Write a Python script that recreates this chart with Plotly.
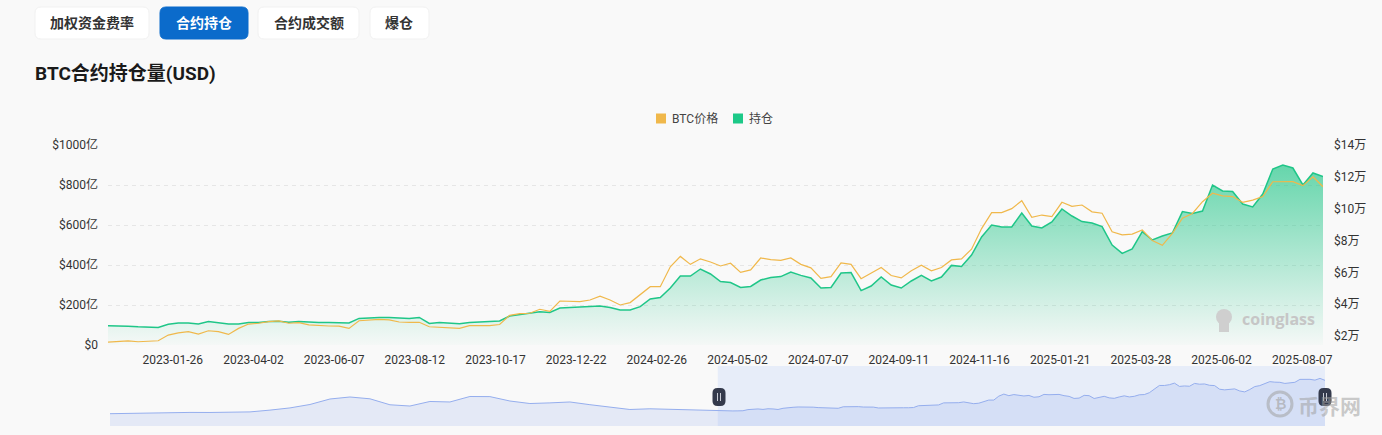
import numpy as np
import pandas as pd
import plotly.graph_objects as go

W, H = 1382, 435

# ---------------- data ----------------
window_start = "2022-12-04"
window_end = "2025-08-24"
history_start = "2020-03-14"
history_end = "2022-11-21"

# open interest (亿 USD), evenly spaced from window_start to window_end
oi_yi = [96, 96, 94, 91, 90, 88, 104, 110, 110, 105,
         117, 110, 105, 105, 113, 112, 118, 119, 114, 117,
         114, 112, 113, 112, 110, 133, 136, 138, 137, 134,
         133, 138, 108, 112, 108, 106, 113, 116, 118, 120,
         145, 152, 158, 166, 163, 185, 188, 190, 190, 195,
         187, 175, 175, 192, 230, 237, 285, 345, 345, 380,
         355, 317, 312, 288, 293, 325, 338, 342, 365, 348,
         335, 285, 288, 360, 362, 272, 295, 340, 300, 285,
         320, 348, 320, 340, 398, 393, 450, 540, 600, 590,
         590, 660, 595, 585, 615, 680, 645, 617, 610, 592,
         500, 458, 480, 567, 525, 545, 560, 667, 658, 670,
         800, 770, 767, 705, 690, 755, 880, 900, 885, 800,
         860, 842]

# BTC price (USD), same dates
price_usd = [16200, 16800, 17000, 16400, 16600, 17000, 20600, 22000, 22700, 21200,
             23300, 22700, 21000, 24800, 27500, 28000, 29000, 29500, 28000, 28400,
             27000, 26500, 26300, 26200, 24800, 29600, 30200, 30500, 30100, 28800,
             28600, 28600, 25800, 25500, 25000, 24800, 26500, 26500, 26500, 27200,
             33000, 34000, 34300, 36800, 35500, 42000, 42000, 41600, 42600, 45000,
             42600, 39500, 41000, 45800, 51000, 51000, 63500, 70000, 65000, 68500,
             66500, 64000, 65700, 60000, 61500, 69000, 68000, 67500, 69000, 65000,
             62800, 56200, 57300, 66000, 65000, 56000, 59400, 63000, 58000, 56500,
             61000, 64500, 61000, 63000, 67800, 68500, 74500, 87500, 97500, 97500,
             100000, 105000, 94500, 96000, 95000, 104000, 101500, 102300, 98000, 97100,
             85500, 83500, 84000, 86600, 80000, 77000, 84500, 94000, 97000, 104400,
             109700, 108000, 107600, 104000, 105400, 107600, 116900, 117000, 117000, 114500,
             120000, 113800]

# earlier BTC price history shown only in the overview slider
history_price_usd = [7600, 9200, 9800, 10800, 11700, 11500, 11500, 13300, 19000, 26000,
                     36900, 54400, 60800, 55000, 36000, 32000, 46500, 44900, 62400, 62000,
                     48000, 40000, 42000, 44900, 36300, 29000, 21000, 23200, 21300, 20000,
                     16800]

tick_dates = ["2023-01-26", "2023-04-02", "2023-06-07", "2023-08-12", "2023-10-17",
              "2023-12-22", "2024-02-26", "2024-05-02", "2024-07-07", "2024-09-11",
              "2024-11-16", "2025-01-21", "2025-03-28", "2025-06-02", "2025-08-07"]
left_ticks = [0, 200, 400, 600, 800, 1000]
left_labels = ["$0", "$200亿", "$400亿", "$600亿", "$800亿", "$1000亿"]
right_ticks = [20000, 40000, 60000, 80000, 100000, 120000, 140000]
right_labels = ["$2万", "$4万", "$6万", "$8万", "$10万", "$12万", "$14万"]
tabs = ["加权资金费率", "合约持仓", "合约成交额", "爆仓"]
title = "BTC合约持仓量(USD)"
series_names = ["BTC价格", "持仓"]


def lin_dates(a, b, n):
    t0, t1 = pd.Timestamp(a).value, pd.Timestamp(b).value
    return pd.to_datetime(np.linspace(t0, t1, n).astype("int64"))


dates = lin_dates(window_start, window_end, len(oi_yi))
hist_dates = lin_dates(history_start, history_end, len(history_price_usd))
full_dates = list(hist_dates) + list(dates)
full_price = history_price_usd + price_usd

GREEN = "#1fc688"
ORANGE = "#f0b84b"
BG = "#f9f9f9"
FONT = "Roboto, 'Noto Sans CJK SC', sans-serif"
slider_range = [-31600, 159500]


def px(x):
    return x / W


def py(y):
    return 1 - y / H


def rrect(x0, y0, x1, y1, r):
    pts = [
        f"M{px(x0 + r)},{py(y0)}",
        f"L{px(x1 - r)},{py(y0)}",
        f"Q{px(x1)},{py(y0)} {px(x1)},{py(y0 + r)}",
        f"L{px(x1)},{py(y1 - r)}",
        f"Q{px(x1)},{py(y1)} {px(x1 - r)},{py(y1)}",
        f"L{px(x0 + r)},{py(y1)}",
        f"Q{px(x0)},{py(y1)} {px(x0)},{py(y1 - r)}",
        f"L{px(x0)},{py(y0 + r)}",
        f"Q{px(x0)},{py(y0)} {px(x0 + r)},{py(y0)}",
        "Z",
    ]
    return " ".join(pts)


fig = go.Figure()

# open interest area
fig.add_trace(go.Scatter(
    x=dates, y=oi_yi, mode="lines", name=series_names[1],
    line=dict(color=GREEN, width=1.5),
    fill="tozeroy",
    fillgradient=dict(type="vertical",
                      colorscale=[[0, "rgba(32,197,135,0.02)"],
                                  [1, "rgba(32,197,135,0.68)"]]),
    xaxis="x", yaxis="y", showlegend=False, hoverinfo="skip"))

# BTC price line
fig.add_trace(go.Scatter(
    x=dates, y=price_usd, mode="lines", name=series_names[0],
    line=dict(color=ORANGE, width=1.2),
    xaxis="x", yaxis="y2", showlegend=False, hoverinfo="skip"))

# overview slider: baseline + price shadow
fig.add_trace(go.Scatter(
    x=full_dates, y=[slider_range[0]] * len(full_dates), mode="lines",
    line=dict(width=0, color="rgba(0,0,0,0)"),
    xaxis="x2", yaxis="y3", showlegend=False, hoverinfo="skip"))
fig.add_trace(go.Scatter(
    x=full_dates, y=full_price, mode="lines",
    line=dict(color="#95aeee", width=1),
    fill="tonexty", fillcolor="rgba(143,170,235,0.20)",
    xaxis="x2", yaxis="y3", showlegend=False, hoverinfo="skip"))

shapes = []
annotations = []

# tabs
tab_boxes = [(35, 149), (160, 248), (258, 359), (370, 429)]
for i, (name, (x0, x1)) in enumerate(zip(tabs, tab_boxes)):
    active = i == 1
    shapes.append(dict(type="path", xref="paper", yref="paper",
                       path=rrect(x0, 7, x1, 39, 6),
                       fillcolor="#0b6bcb" if active else "#ffffff",
                       line=dict(color="#0b6bcb" if active else "#f1f1f1", width=1),
                       layer="above"))
    annotations.append(dict(xref="paper", yref="paper", x=px((x0 + x1) / 2), y=py(23),
                            text=f"<b>{name}</b>", showarrow=False,
                            xanchor="center", yanchor="middle",
                            font=dict(size=14, color="#ffffff" if active else "#333333",
                                      family=FONT)))

# title
annotations.append(dict(xref="paper", yref="paper", x=px(33), y=py(73),
                        text=f"<b>{title}</b>", showarrow=False,
                        xanchor="left", yanchor="middle",
                        font=dict(size=19, color="#1a1a1a", family=FONT)))

# legend
legend_items = [(series_names[0], ORANGE, 656), (series_names[1], "#1dc988", 733)]
for name, col, x0 in legend_items:
    shapes.append(dict(type="rect", xref="paper", yref="paper",
                       x0=px(x0), x1=px(x0 + 10), y0=py(113.5), y1=py(123.5),
                       fillcolor=col, line=dict(width=0)))
    annotations.append(dict(xref="paper", yref="paper", x=px(x0 + 14), y=py(118.5),
                            text=name, showarrow=False, xanchor="left", yanchor="middle",
                            font=dict(size=12, color="#444444", family=FONT)))

# slider selected window
shapes.append(dict(type="rect", xref="x2", yref="paper",
                   x0=window_start, x1=window_end, y0=py(426), y1=py(366),
                   fillcolor="rgba(143,176,247,0.17)", line=dict(width=0), layer="below"))
# slider handles
for cx in (719, 1325):
    shapes.append(dict(type="path", xref="paper", yref="paper",
                       path=rrect(cx - 6.5, 388, cx + 6.5, 406, 5),
                       fillcolor="#343a4c", line=dict(width=0), layer="above"))
    for dx in (-1.5, 1.5):
        shapes.append(dict(type="line", xref="paper", yref="paper",
                           x0=px(cx + dx), x1=px(cx + dx), y0=py(393), y1=py(401),
                           line=dict(color="#c9ccd6", width=1), layer="above"))

# coinglass watermark
shapes.append(dict(type="circle", xref="paper", yref="paper",
                   x0=px(1216), x1=px(1232), y0=py(325), y1=py(309),
                   fillcolor="#cfcfcf", line=dict(width=0)))
shapes.append(dict(type="rect", xref="paper", yref="paper",
                   x0=px(1219), x1=px(1229), y0=py(332), y1=py(322),
                   fillcolor="#cfcfcf", line=dict(width=0)))
annotations.append(dict(xref="paper", yref="paper", x=px(1240), y=py(319),
                        text="<b>coinglass</b>", showarrow=False,
                        xanchor="left", yanchor="middle",
                        font=dict(size=16, color="#c6c6c6", family="'Open Sans', sans-serif")))

# site watermark (bottom right)
shapes.append(dict(type="circle", xref="paper", yref="paper",
                   x0=px(1268), x1=px(1292), y0=py(416), y1=py(392),
                   fillcolor="rgba(0,0,0,0)", line=dict(color="rgba(160,160,160,0.55)", width=3)))
annotations.append(dict(xref="paper", yref="paper", x=px(1280), y=py(404),
                        text="<b>₿</b>", showarrow=False, xanchor="center", yanchor="middle",
                        font=dict(size=14, color="rgba(160,160,160,0.6)", family=FONT)))
annotations.append(dict(xref="paper", yref="paper", x=px(1296), y=py(405),
                        text="<b>币界网</b>", showarrow=False, xanchor="left", yanchor="middle",
                        font=dict(size=21, color="rgba(160,160,160,0.55)",
                                  family="'Noto Sans CJK SC', sans-serif")))

fig.update_layout(
    template="none",
    width=W, height=H, autosize=False,
    margin=dict(l=0, r=0, t=0, b=0, pad=0, autoexpand=False),
    paper_bgcolor=BG, plot_bgcolor=BG,
    font=dict(family=FONT, size=12, color="#333333"),
    showlegend=False,
    xaxis=dict(domain=[px(108), px(1323)], type="date", automargin=False,
               range=[window_start, window_end],
               tickvals=tick_dates, ticktext=tick_dates,
               showgrid=False, zeroline=False, showline=False, ticks="",
               ticklabelstandoff=6, tickangle=0,
               tickfont=dict(size=12, color="#333333", family=FONT), anchor="y"),
    yaxis=dict(domain=[1 - 345 / H, 1 - 145 / H], range=[0, 1000], automargin=False,
               tickvals=left_ticks, ticktext=left_labels,
               showgrid=True, gridcolor="#e6e6e6", griddash="4px,4px", gridwidth=1,
               zeroline=False, showline=False, ticks="", ticklabelstandoff=9,
               tickfont=dict(size=12, color="#333333", family=FONT), anchor="x"),
    yaxis2=dict(overlaying="y", side="right", range=[14350, 140000], automargin=False,
                tickvals=right_ticks, ticktext=right_labels,
                showgrid=False, zeroline=False, showline=False, ticks="",
                ticklabelstandoff=10,
                tickfont=dict(size=12, color="#333333", family=FONT), anchor="x"),
    xaxis2=dict(domain=[px(110), px(1325)], type="date", automargin=False,
                range=[history_start, window_end], visible=False, anchor="y3"),
    yaxis3=dict(domain=[1 - 426 / H, 1 - 366 / H], range=slider_range, automargin=False,
                visible=False, anchor="x2"),
    shapes=shapes,
    annotations=annotations,
)

# pin the figure to the page's top-left corner (no default body margin)
pin_js = (
    "document.body.style.margin='0px';"
    "document.body.style.background='#f9f9f9';"
    "var d=document.getElementById('{plot_id}');"
    "d.style.position='fixed';d.style.left='0px';d.style.top='0px';"
)

fig.write_html("out.html", post_script=pin_js, config={"displayModeBar": False})
